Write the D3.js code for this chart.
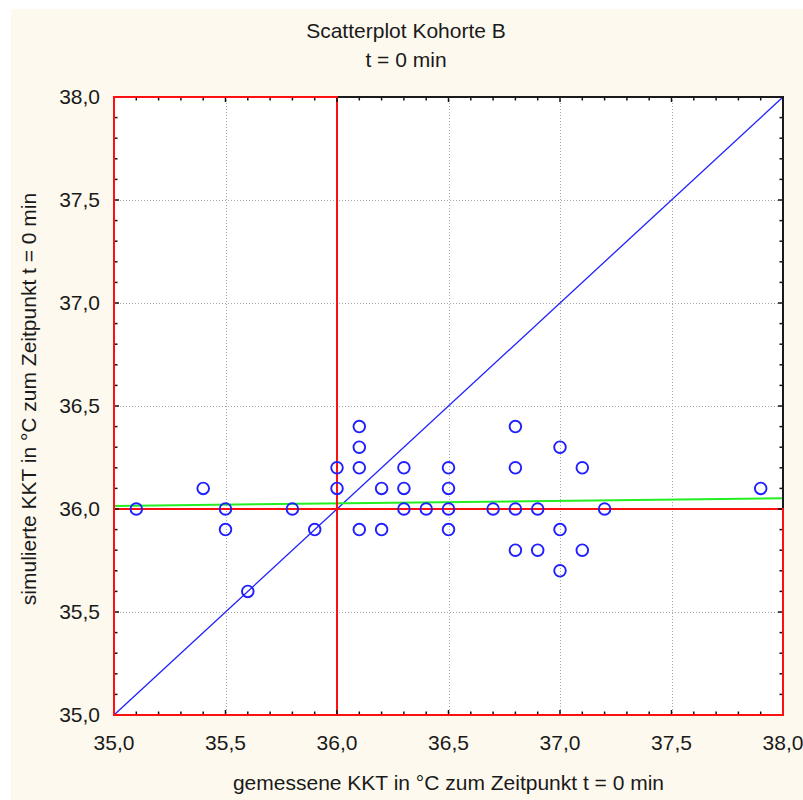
<!DOCTYPE html>
<html>
<head>
<meta charset="utf-8">
<script src="https://cdn.jsdelivr.net/npm/d3@7"></script>
<style>
  html, body { margin: 0; padding: 0; background: #ffffff; }
  svg { display: block; }
  text { font-family: "Liberation Sans", Arial, sans-serif; fill: #1a1a1a; }
</style>
</head>
<body>
<div id="chart"></div>
<script>
// Measured core temperature (x) and simulated core temperature (y), °C, t = 0 min
const measured = [35.1, 35.4, 35.5, 35.5, 35.6, 35.8, 35.9, 36.0, 36.0, 36.1, 36.1, 36.1, 36.1,
  36.2, 36.2, 36.3, 36.3, 36.3, 36.4, 36.5, 36.5, 36.5, 36.5, 36.7, 36.8, 36.8, 36.8, 36.8,
  36.9, 36.9, 37.0, 37.0, 37.0, 37.1, 37.1, 37.2, 37.9];
const simulated = [36.0, 36.1, 36.0, 35.9, 35.6, 36.0, 35.9, 36.2, 36.1, 36.4, 36.3, 36.2, 35.9,
  36.1, 35.9, 36.2, 36.1, 36.0, 36.0, 36.2, 36.1, 36.0, 35.9, 36.0, 36.4, 36.2, 36.0, 35.8,
  36.0, 35.8, 36.3, 35.9, 35.7, 36.2, 35.8, 36.0, 36.1];

// Fitted regression line, given by its end points
const fitX = [35.0, 38.0];
const fitY = [36.015, 36.052];

// Reference threshold drawn as red quadrant lines
const threshold = 36.0;

const xTicks = [35.0, 35.5, 36.0, 36.5, 37.0, 37.5, 38.0];
const yTicks = [35.0, 35.5, 36.0, 36.5, 37.0, 37.5, 38.0];
const xDomain = [35.0, 38.0];
const yDomain = [35.0, 38.0];

const titleLines = ["Scatterplot Kohorte B", "t = 0 min"];
const xLabel = "gemessene KKT in °C zum Zeitpunkt t = 0 min";
const yLabel = "simulierte KKT in °C zum Zeitpunkt t = 0 min";

const W = 803, H = 800;
const plot = { left: 114, right: 783, top: 97, bottom: 715 };
const fontSize = 21;

const svg = d3.select("#chart").append("svg")
  .attr("width", W).attr("height", H);

// Panel background
svg.append("rect").attr("x", 11).attr("y", 9).attr("width", W - 11).attr("height", H - 9)
  .attr("fill", "#fdf9ee");

const x = d3.scaleLinear().domain(xDomain).range([plot.left, plot.right]);
const y = d3.scaleLinear().domain(yDomain).range([plot.bottom, plot.top]);
const fmt = v => d3.format(".1f")(v).replace(".", ",");

// Plot area
svg.append("rect")
  .attr("x", plot.left).attr("y", plot.top)
  .attr("width", plot.right - plot.left).attr("height", plot.bottom - plot.top)
  .attr("fill", "#ffffff");

// Dotted grid at the labelled ticks
const grid = svg.append("g").attr("stroke", "#a8a8a8").attr("stroke-width", 1)
  .attr("stroke-dasharray", "1,2");
grid.selectAll("line.gx").data(xTicks.slice(1, -1)).join("line")
  .attr("x1", d => Math.round(x(d)) + 0.5).attr("x2", d => Math.round(x(d)) + 0.5)
  .attr("y1", plot.top).attr("y2", plot.bottom);
grid.selectAll("line.gy").data(yTicks.slice(1, -1)).join("line")
  .attr("y1", d => Math.round(y(d)) + 0.5).attr("y2", d => Math.round(y(d)) + 0.5)
  .attr("x1", plot.left).attr("x2", plot.right);

// Line of identity
svg.append("line")
  .attr("x1", x(xDomain[0])).attr("y1", y(xDomain[0]))
  .attr("x2", x(xDomain[1])).attr("y2", y(xDomain[1]))
  .attr("stroke", "#2020ff").attr("stroke-width", 1.3);

// Regression line
svg.append("line")
  .attr("x1", x(fitX[0])).attr("y1", y(fitY[0]))
  .attr("x2", x(fitX[1])).attr("y2", y(fitY[1]))
  .attr("stroke", "#22ee22").attr("stroke-width", 2);

// Frame
svg.append("rect")
  .attr("x", plot.left).attr("y", plot.top)
  .attr("width", plot.right - plot.left).attr("height", plot.bottom - plot.top)
  .attr("fill", "none").attr("stroke", "#1a1a1a").attr("stroke-width", 2);

// Threshold quadrant outlines
const red = svg.append("g").attr("fill", "none").attr("stroke", "#ff1010").attr("stroke-width", 2);
red.append("rect")
  .attr("x", x(xDomain[0])).attr("y", y(yDomain[1]))
  .attr("width", x(threshold) - x(xDomain[0])).attr("height", y(yDomain[0]) - y(yDomain[1]));
red.append("rect")
  .attr("x", x(xDomain[0])).attr("y", y(threshold))
  .attr("width", x(xDomain[1]) - x(xDomain[0])).attr("height", y(yDomain[0]) - y(threshold));

// Inward ticks on all four sides
const minorX = d3.range(0, 31).map(i => xDomain[0] + i * 0.1);
const minorY = d3.range(0, 31).map(i => yDomain[0] + i * 0.1);
const tk = svg.append("g").attr("stroke", "#111").attr("stroke-width", 1.5);
const isMajor = v => Math.abs(v * 2 - Math.round(v * 2)) < 1e-6;
tk.selectAll("line.bx").data(minorX.slice(1, -1)).join("line")
  .attr("x1", d => x(d)).attr("x2", d => x(d))
  .attr("y1", plot.bottom - 1).attr("y2", d => plot.bottom - (isMajor(d) ? 5 : 3.5));
tk.selectAll("line.tx").data(minorX.slice(1, -1)).join("line")
  .attr("x1", d => x(d)).attr("x2", d => x(d))
  .attr("y1", plot.top + 1).attr("y2", d => plot.top + (isMajor(d) ? 5 : 3.5));
tk.selectAll("line.ly").data(minorY.slice(1, -1)).join("line")
  .attr("y1", d => y(d)).attr("y2", d => y(d))
  .attr("x1", plot.left + 1).attr("x2", d => plot.left + (isMajor(d) ? 5 : 3.5));
tk.selectAll("line.ry").data(minorY.slice(1, -1)).join("line")
  .attr("y1", d => y(d)).attr("y2", d => y(d))
  .attr("x1", plot.right - 1).attr("x2", d => plot.right - (isMajor(d) ? 5 : 3.5));

// Data points
const pts = d3.zip(measured, simulated);
svg.append("g").selectAll("circle").data(pts).join("circle")
  .attr("cx", d => x(d[0])).attr("cy", d => y(d[1])).attr("r", 5.8)
  .attr("fill", "none").attr("stroke", "#1f1fff").attr("stroke-width", 1.9);

// Tick labels
svg.append("g").selectAll("text").data(xTicks).join("text")
  .attr("x", d => x(d)).attr("y", 750)
  .attr("text-anchor", "middle").attr("font-size", fontSize)
  .text(fmt);
svg.append("g").selectAll("text").data(yTicks).join("text")
  .attr("x", 100).attr("y", d => y(d)).attr("dy", "0.35em")
  .attr("text-anchor", "end").attr("font-size", fontSize)
  .text(fmt);

// Title
svg.append("g").selectAll("text").data(titleLines).join("text")
  .attr("x", 406).attr("y", (d, i) => 38 + i * 29)
  .attr("text-anchor", "middle").attr("font-size", fontSize)
  .text(d => d);

// Axis titles
svg.append("text")
  .attr("x", (plot.left + plot.right) / 2).attr("y", 790)
  .attr("text-anchor", "middle").attr("font-size", fontSize)
  .text(xLabel);
svg.append("text")
  .attr("transform", "translate(36,399) rotate(-90)")
  .attr("text-anchor", "middle").attr("font-size", fontSize)
  .text(yLabel);
</script>
</body>
</html>
